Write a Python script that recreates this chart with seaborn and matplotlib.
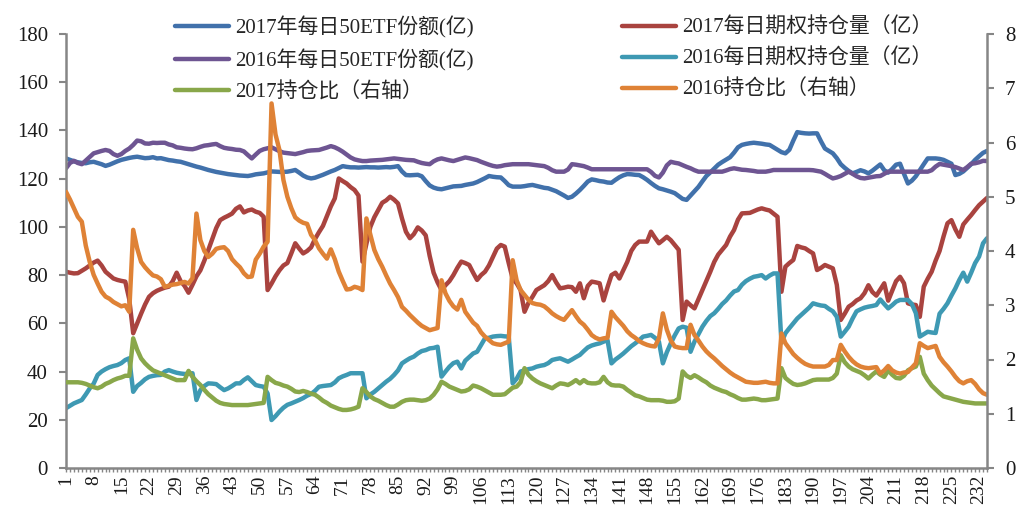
import matplotlib

matplotlib.use("Agg")

import matplotlib.pyplot as plt
import pandas as pd
import seaborn as sns
from matplotlib.ticker import FixedLocator, MultipleLocator

# 交易日序号
days = list(range(1, 235))

# 2017年每日50ETF份额(亿) - 左轴
etf_2017 = [
    128.4, 127.8, 127.2, 126.8, 126.5, 126.4, 126.8, 127.0, 126.5, 126.0,
    125.3, 125.8, 126.5, 127.2, 127.8, 128.2, 128.6, 128.9, 129.1, 128.8,
    128.5, 128.6, 128.9, 128.4, 128.5, 128.1, 127.7, 127.5, 127.2, 127.0,
    126.5, 126.0, 125.5, 125.0, 124.6, 124.1, 123.6, 123.2, 122.8, 122.5,
    122.2, 121.9, 121.7, 121.5, 121.3, 121.2, 121.1, 121.4, 121.8, 122.0,
    122.2, 122.6, 123.0, 122.9, 122.8, 122.8, 122.9, 123.2, 123.6, 122.5,
    121.3, 120.5, 120.1, 120.4, 121.0, 121.6, 122.3, 123.0, 123.6, 124.4,
    125.2, 124.9, 124.7, 124.7, 124.6, 124.7, 124.8, 124.7, 124.7, 124.6,
    124.7, 124.8, 124.7, 124.9, 125.2, 123.0, 121.5, 121.4, 121.5, 121.6,
    121.0, 119.0, 117.2, 116.3, 115.8, 115.6, 116.0, 116.4, 116.8, 116.9,
    117.0, 117.4, 117.7, 118.0, 118.6, 119.4, 120.2, 121.1, 120.8, 120.6,
    120.5, 119.0, 117.3, 116.7, 116.7, 116.7, 116.9, 117.2, 117.4, 117.0,
    116.6, 116.2, 116.0, 115.4, 114.8, 113.9, 113.0, 112.0, 112.5, 113.8,
    115.3, 117.0, 118.8, 119.7, 119.4, 119.0, 118.8, 118.4, 118.3, 119.5,
    120.6, 121.4, 121.9, 121.8, 121.6, 121.5, 120.6, 119.5, 118.2, 117.0,
    116.0, 115.6, 115.1, 114.6, 114.0, 112.8, 111.6, 111.2, 113.0, 114.8,
    116.6, 118.9, 121.1, 122.6, 124.2, 125.8, 126.9, 127.9, 128.9, 130.8,
    133.0, 134.0, 134.4, 134.7, 134.9, 134.7, 134.5, 134.2, 134.0, 133.0,
    132.0, 131.0, 130.5, 132.0, 135.8, 139.3, 139.0, 138.8, 138.7, 138.8,
    138.8, 135.5, 132.5, 131.5, 130.5, 128.5, 126.0, 124.5, 123.2, 122.2,
    122.8, 123.5, 123.0, 122.2, 123.3, 124.6, 125.9, 123.5, 122.5, 124.0,
    125.8, 126.2, 122.0, 118.0, 119.2, 121.0, 123.5, 126.0, 128.4, 128.4,
    128.4, 128.2, 127.8, 127.0, 126.2, 121.5, 122.0, 123.0, 124.5, 126.0,
    127.8, 129.3, 130.7, 131.5,
]

# 2016年每日50ETF份额(亿) - 左轴
etf_2016 = [
    124.3, 126.5, 127.4, 126.5, 126.0, 127.5, 129.0, 130.5, 131.0, 131.5,
    131.9, 131.5, 130.2, 129.5, 130.2, 131.5, 132.5, 134.0, 135.8, 135.5,
    134.6, 134.5, 134.9, 134.8, 134.9, 134.9, 134.2, 133.8, 133.0, 132.8,
    132.5, 132.3, 132.2, 132.6, 133.2, 133.7, 133.9, 134.2, 134.4, 133.5,
    132.8, 132.5, 132.3, 132.0, 131.9, 131.3, 129.8, 128.4, 130.0, 131.5,
    132.2, 132.6, 133.0, 132.2, 131.4, 130.8, 130.6, 130.4, 130.2, 130.6,
    131.0, 131.5, 131.7, 131.8, 131.9, 132.4, 132.9, 133.5, 133.0, 132.2,
    131.2, 130.0, 128.8, 128.0, 127.6, 127.3, 127.3, 127.5, 127.6, 127.7,
    127.8, 128.0, 128.2, 128.4, 128.2, 128.0, 127.8, 127.7, 127.6, 127.0,
    126.5, 126.2, 126.0, 127.2, 128.0, 128.4, 128.0, 127.6, 127.3, 127.8,
    128.3, 128.8, 128.5, 128.1, 127.7, 127.0, 126.4, 125.8, 125.3, 125.0,
    125.2, 125.6, 125.8, 126.0, 126.0, 126.0, 126.0, 126.0, 125.8, 125.6,
    125.4, 125.2, 124.5, 123.5, 122.9, 122.9, 122.9, 123.8, 126.0, 125.8,
    125.5, 125.2, 124.6, 123.9, 123.9, 123.9, 123.9, 123.9, 123.9, 123.9,
    123.9, 123.9, 123.9, 123.9, 123.9, 123.9, 123.9, 123.9, 122.8, 121.2,
    120.5, 122.5, 125.5, 127.0, 126.6, 126.3, 125.6, 124.9, 124.3, 123.5,
    122.9, 122.9, 122.9, 122.9, 122.9, 122.9, 122.9, 123.4, 124.0, 124.3,
    124.0, 123.7, 123.6, 123.4, 123.2, 122.9, 122.9, 122.9, 123.2, 123.6,
    123.6, 123.6, 123.6, 123.6, 123.6, 123.6, 123.6, 123.6, 123.6, 123.5,
    123.2, 122.9, 122.0, 121.0, 120.1, 120.5, 121.1, 122.0, 122.9, 122.0,
    121.0, 120.3, 120.1, 120.4, 120.7, 121.0, 121.1, 122.0, 122.9, 122.9,
    122.9, 122.9, 122.9, 122.9, 122.9, 122.9, 122.9, 122.9, 122.9, 123.5,
    125.0, 126.1, 125.8, 125.5, 125.2, 124.8, 124.2, 123.6, 124.8, 126.2,
    126.4, 126.8, 127.4, 127.3,
]

# 2017每日期权持仓量（亿） - 左轴
oi_2017 = [
    81.4, 81.0, 80.7, 80.8, 81.8, 82.8, 84.0, 85.2, 86.0, 84.0,
    81.4, 80.0, 78.6, 78.0, 77.6, 77.3, 70.0, 55.9, 60.0, 64.0,
    67.8, 71.0, 72.5, 73.5, 74.2, 74.8, 75.2, 77.5, 81.0, 77.5,
    75.5, 72.7, 76.0, 79.5, 82.0, 86.0, 90.4, 95.0, 99.5, 102.8,
    103.8, 104.6, 105.5, 107.5, 108.5, 106.0, 106.8, 107.2, 106.3, 105.8,
    104.2, 73.8, 76.5, 79.5, 82.0, 84.0, 85.0, 89.0, 93.2, 91.0,
    89.0, 90.0, 91.5, 95.0, 97.8, 100.4, 104.5, 108.5, 111.8, 120.1,
    119.0, 118.0, 116.5, 115.3, 113.0, 85.6, 93.0, 100.0, 104.0, 107.0,
    110.0, 111.0, 112.5, 111.3, 109.7, 103.5, 98.0, 95.3, 97.0, 99.8,
    98.5, 96.5, 88.0, 81.0, 77.0, 73.8, 75.8, 77.5, 80.0, 83.0,
    85.6, 85.0, 84.2, 81.0, 78.0, 80.0, 81.4, 84.0, 87.5, 91.0,
    92.5, 91.8, 85.0, 78.5, 76.6, 73.8, 64.8, 68.5, 71.0, 73.8,
    74.8, 75.8, 77.5, 80.0, 77.0, 74.5, 74.8, 75.2, 75.0, 73.1,
    76.6, 70.4, 75.5, 77.3, 77.0, 76.6, 69.5, 75.0, 80.0, 81.0,
    78.6, 82.0, 85.5, 90.0, 92.5, 93.9, 93.9, 93.9, 98.0, 95.5,
    93.2, 94.5, 95.9, 94.5, 92.5, 90.5, 61.4, 69.0, 67.5, 66.2,
    70.0, 73.8, 77.5, 81.4, 85.5, 88.5, 90.5, 92.5, 96.0, 98.7,
    103.0, 105.6, 105.7, 105.8, 106.5, 107.2, 107.7, 107.2, 106.8, 105.5,
    104.2, 73.1, 83.5, 85.0, 86.3, 92.1, 91.5, 91.1, 90.0, 89.0,
    82.1, 83.0, 84.2, 83.5, 82.8, 76.0, 61.4, 64.0, 66.9, 68.0,
    69.5, 70.4, 72.5, 75.8, 73.0, 71.5, 74.0, 76.6, 69.4, 73.5,
    77.5, 79.3, 76.6, 68.3, 67.8, 67.6, 62.7, 75.2, 78.5, 81.4,
    86.0, 90.0, 96.0, 101.5, 102.8, 99.0, 95.9, 101.0, 103.0, 104.9,
    107.0, 109.0, 110.5, 112.0,
]

# 2016每日期权持仓量（亿） - 左轴
oi_2016 = [
    24.8, 25.8, 26.8, 27.5, 28.2, 30.5, 33.0, 35.0, 38.6, 40.0,
    41.0, 41.8, 42.3, 42.7, 43.5, 44.8, 45.5, 31.6, 34.0, 35.3,
    36.8, 37.8, 38.2, 38.5, 38.6, 40.0, 40.6, 40.0, 39.5, 39.2,
    39.0, 39.1, 39.3, 28.2, 32.3, 34.0, 35.1, 35.0, 34.8, 33.5,
    32.3, 33.0, 34.0, 35.1, 35.1, 36.5, 37.6, 36.0, 34.4, 34.0,
    33.7, 30.9, 19.9, 21.5, 23.4, 25.0, 26.2, 26.8, 27.5, 28.2,
    29.0, 30.0, 30.7, 32.0, 33.7, 34.0, 34.2, 34.4, 35.5, 37.2,
    38.0, 38.6, 39.3, 39.3, 39.3, 39.3, 28.9, 30.5, 31.6, 33.0,
    34.4, 35.8, 37.0, 38.6, 40.5, 43.4, 44.5, 45.5, 46.2, 47.5,
    48.5, 48.9, 49.6, 49.8, 50.3, 37.9, 40.0, 42.0, 43.5, 44.1,
    41.3, 44.5, 46.0, 47.5, 48.2, 51.0, 53.8, 54.0, 54.5, 54.7,
    54.8, 54.6, 54.5, 35.1, 37.0, 40.0, 40.5, 41.0, 41.3, 42.0,
    42.4, 42.7, 43.5, 44.8, 45.2, 45.5, 44.8, 44.1, 45.0, 46.0,
    46.9, 48.5, 50.0, 50.8, 51.3, 51.7, 52.4, 53.0, 43.4, 45.0,
    46.2, 47.5, 49.0, 50.5, 51.7, 53.0, 54.5, 54.8, 55.2, 54.0,
    52.4, 43.4, 48.0, 51.7, 55.0, 57.9, 58.6, 58.2, 48.2, 52.4,
    55.5, 58.6, 61.0, 63.0, 64.2, 66.0, 68.0, 69.5, 71.5, 73.2,
    73.8, 76.0, 77.5, 78.5, 79.3, 79.6, 80.0, 78.6, 79.8, 80.7,
    80.7, 52.0, 55.9, 58.0, 60.0, 62.0, 63.5, 65.0, 66.5, 68.3,
    67.8, 67.4, 67.2, 66.0, 65.0, 62.7, 54.5, 56.5, 58.6, 62.0,
    65.0, 65.8, 66.5, 66.9, 67.2, 67.6, 69.9, 68.0, 66.2, 67.5,
    69.0, 69.7, 69.7, 69.7, 68.0, 64.2, 54.5, 55.5, 56.5, 56.2,
    56.0, 64.0, 66.0, 68.3, 71.5, 74.5, 78.0, 81.0, 77.3, 81.0,
    85.0, 87.7, 93.2, 95.3,
]

# 2017持仓比（右轴）
ratio_2017 = [
    1.58, 1.58, 1.58, 1.58, 1.57, 1.55, 1.52, 1.49, 1.47, 1.50,
    1.55, 1.58, 1.62, 1.65, 1.67, 1.70, 1.70, 2.39, 2.18, 2.02,
    1.93, 1.86, 1.80, 1.77, 1.74, 1.71, 1.68, 1.65, 1.62, 1.62,
    1.62, 1.79, 1.68, 1.60, 1.53, 1.44, 1.36, 1.30, 1.24, 1.20,
    1.18, 1.17, 1.16, 1.16, 1.16, 1.16, 1.16, 1.17, 1.18, 1.19,
    1.20, 1.68, 1.62, 1.57, 1.55, 1.52, 1.50, 1.46, 1.41, 1.40,
    1.42, 1.40, 1.37, 1.35, 1.30, 1.24, 1.20, 1.15, 1.12, 1.09,
    1.07, 1.07, 1.08, 1.10, 1.13, 1.47, 1.40, 1.32, 1.27, 1.24,
    1.20, 1.16, 1.13, 1.13, 1.17, 1.22, 1.25, 1.26, 1.26, 1.25,
    1.24, 1.25, 1.28, 1.35, 1.45, 1.59, 1.55, 1.50, 1.47, 1.44,
    1.41, 1.42, 1.45, 1.52, 1.50, 1.47, 1.43, 1.39, 1.35, 1.35,
    1.35, 1.36, 1.42, 1.48, 1.50, 1.58, 1.84, 1.72, 1.65, 1.60,
    1.56, 1.53, 1.50, 1.47, 1.52, 1.56, 1.55, 1.53, 1.57, 1.62,
    1.56, 1.62, 1.57, 1.56, 1.56, 1.58, 1.68, 1.58, 1.53, 1.52,
    1.52, 1.50, 1.44, 1.39, 1.34, 1.32, 1.29, 1.26, 1.25, 1.25,
    1.25, 1.24, 1.22, 1.22, 1.23, 1.28, 1.78, 1.70, 1.66, 1.71,
    1.67, 1.62, 1.58, 1.52, 1.48, 1.45, 1.42, 1.40, 1.36, 1.33,
    1.29, 1.26, 1.26, 1.27, 1.28, 1.27, 1.25, 1.25, 1.26, 1.27,
    1.28, 1.84, 1.66, 1.60, 1.55, 1.53, 1.54, 1.56, 1.59, 1.62,
    1.63, 1.63, 1.63, 1.63, 1.66, 1.74, 2.08, 1.95, 1.87, 1.82,
    1.79, 1.76, 1.71, 1.65, 1.72, 1.78, 1.72, 1.68, 1.80, 1.72,
    1.66, 1.65, 1.70, 1.80, 1.84, 1.87, 2.05, 1.74, 1.62, 1.52,
    1.45, 1.38, 1.32, 1.30, 1.28, 1.26, 1.24, 1.22, 1.21, 1.20,
    1.19, 1.19, 1.19, 1.19,
]

# 2016持仓比（右轴）
ratio_2016 = [
    5.09, 4.95, 4.79, 4.63, 4.54, 4.10, 3.80, 3.56, 3.40, 3.25,
    3.16, 3.12, 3.06, 3.02, 2.98, 3.00, 2.88, 4.39, 4.05, 3.80,
    3.70, 3.62, 3.55, 3.53, 3.48, 3.34, 3.36, 3.38, 3.39, 3.41,
    3.43, 3.40, 3.50, 4.69, 4.20, 4.00, 3.89, 3.95, 4.04, 4.06,
    4.07, 4.00, 3.85, 3.77, 3.70, 3.59, 3.52, 3.53, 3.84, 3.95,
    4.08, 4.17, 6.72, 6.15, 5.86, 5.31, 5.00, 4.79, 4.62, 4.56,
    4.52, 4.50, 4.30, 4.20, 4.05, 3.95, 3.86, 4.03, 3.85, 3.62,
    3.45, 3.29, 3.30, 3.34, 3.32, 3.28, 4.60, 4.30, 4.02, 3.85,
    3.71, 3.55, 3.40, 3.28, 3.15, 2.97, 2.90, 2.82, 2.75, 2.68,
    2.62, 2.58, 2.54, 2.56, 2.58, 3.46, 3.22, 3.08, 2.98, 2.92,
    3.10, 2.88, 2.78, 2.68, 2.62, 2.50, 2.42, 2.36, 2.30, 2.28,
    2.27, 2.30, 2.33, 3.83, 3.46, 3.28, 3.19, 3.10, 3.04, 3.02,
    3.01, 2.98, 2.92, 2.85, 2.80, 2.76, 2.73, 2.82, 2.91, 2.80,
    2.70, 2.64, 2.55, 2.45, 2.40, 2.37, 2.39, 2.40, 2.88, 2.78,
    2.70, 2.62, 2.52, 2.45, 2.40, 2.34, 2.30, 2.27, 2.25, 2.24,
    2.39, 2.85, 2.55, 2.35, 2.24, 2.22, 2.21, 2.21, 2.64, 2.45,
    2.35, 2.24, 2.15, 2.08, 2.02, 1.95, 1.88, 1.82, 1.76, 1.71,
    1.67, 1.63, 1.59, 1.58, 1.57, 1.57, 1.58, 1.59, 1.57, 1.56,
    1.56, 2.48, 2.30, 2.20, 2.10, 2.03, 1.97, 1.92, 1.89, 1.87,
    1.87, 1.87, 1.87, 1.90, 1.99, 1.99, 2.27, 2.15, 2.05, 1.97,
    1.91, 1.87, 1.85, 1.84, 1.85, 1.86, 1.74, 1.80, 1.88, 1.80,
    1.76, 1.74, 1.76, 1.77, 1.85, 1.93, 2.30, 2.25, 2.21, 2.23,
    2.25, 2.05, 1.95, 1.87, 1.78, 1.68, 1.60, 1.56, 1.60, 1.62,
    1.55, 1.45, 1.38, 1.35,
]

left_series = [
    ("2017年每日50ETF份额(亿)", etf_2017, "#4171ab"),
    ("2016年每日50ETF份额(亿)", etf_2016, "#6e5592"),
    ("2017每日期权持仓量（亿）", oi_2017, "#a9433f"),
    ("2016每日期权持仓量（亿）", oi_2016, "#3e99b3"),
]
right_series = [
    ("2017持仓比（右轴）", ratio_2017, "#89a74a"),
    ("2016持仓比（右轴）", ratio_2016, "#df8236"),
]
legend_order = [
    "2017年每日50ETF份额(亿)",
    "2016年每日50ETF份额(亿)",
    "2017持仓比（右轴）",
    "2017每日期权持仓量（亿）",
    "2016每日期权持仓量（亿）",
    "2016持仓比（右轴）",
]

sns.set_theme(style="white")
plt.rcParams["font.family"] = ["Liberation Serif", "Noto Sans CJK SC"]
plt.rcParams["axes.unicode_minus"] = False

W, H = 1021, 518
fig = plt.figure(figsize=(W / 100, H / 100), dpi=100)
ax = fig.add_axes([66 / W, 1 - 468 / H, (987 - 66) / W, (468 - 34) / H])
ax2 = ax.twinx()

for name, values, color in left_series:
    frame = pd.DataFrame({"day": days, "value": values})
    sns.lineplot(frame, x="day", y="value", ax=ax, color=color,
                 linewidth=3.2, label=name, legend=False)
for name, values, color in right_series:
    frame = pd.DataFrame({"day": days, "value": values})
    sns.lineplot(frame, x="day", y="value", ax=ax2, color=color,
                 linewidth=3.2, label=name, legend=False)

axis_grey = "#868686"
ax.set_xlim(1, 234)
ax.set_ylim(0, 180)
ax2.set_ylim(0, 8)
ax.yaxis.set_major_locator(MultipleLocator(20))
ax2.yaxis.set_major_locator(MultipleLocator(1))
ax.xaxis.set_major_locator(FixedLocator(list(range(1, 235, 7))))
ax.xaxis.set_minor_locator(MultipleLocator(1))
ax.set_xlabel("")
ax.set_ylabel("")
ax2.set_ylabel("")

for side in ["top", "right"]:
    ax.spines[side].set_visible(False)
for side in ["top", "left", "bottom"]:
    ax2.spines[side].set_visible(False)
for spine in [ax.spines["left"], ax.spines["bottom"], ax2.spines["right"]]:
    spine.set_color(axis_grey)
    spine.set_linewidth(1.8)

ax.tick_params(axis="y", which="major", left=True, direction="out", length=5,
               width=1.5, color=axis_grey, labelsize=15, pad=8, labelcolor="#1a1a1a")
ax2.tick_params(axis="y", which="major", right=True, direction="out", length=5,
                width=1.5, color=axis_grey, labelsize=15, pad=8, labelcolor="#1a1a1a")
ax.tick_params(axis="x", which="both", bottom=True, direction="out", length=3,
               width=1.0, color=axis_grey)
ax.tick_params(axis="x", which="major", labelsize=14, labelrotation=90, pad=2,
               labelcolor="#1a1a1a")

handles = {}
for a in (ax, ax2):
    for h, l in zip(*a.get_legend_handles_labels()):
        handles[l] = h
fig.legend([handles[l] for l in legend_order], legend_order, ncol=2,
           loc="upper left", bbox_to_anchor=(175 / W, 1 - 16 / H),
           frameon=False, fontsize=15, handlelength=2.6, handletextpad=0.3,
           columnspacing=7.1, labelspacing=0.52, borderpad=0, borderaxespad=0)

fig.savefig("out.png", dpi=100)
